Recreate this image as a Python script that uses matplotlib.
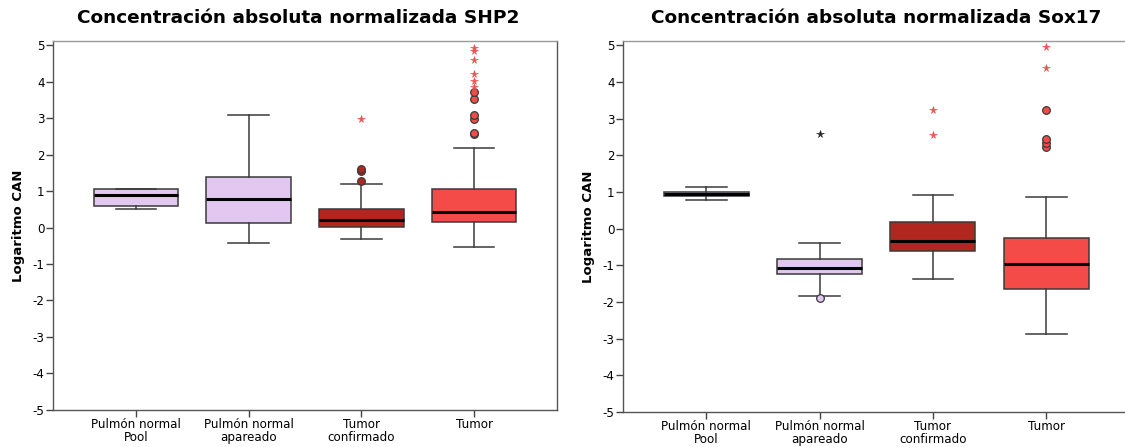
import numpy as np
import matplotlib
matplotlib.use('Agg')
import matplotlib.pyplot as plt

plt.rcParams['font.family'] = ['DejaVu Sans']
plt.rcParams['axes.unicode_minus'] = False

grupos = ['Pulmón normal\nPool', 'Pulmón normal\napareado', 'Tumor\nconfirmado', 'Tumor']
colores = ['#E2C8F0', '#E2C8F0', '#B22620', '#F44B49']

# SHP2: cuartiles y bigotes por grupo
shp2_med = [0.89, 0.79, 0.21, 0.42]
shp2_q1 = [0.59, 0.12, 0.02, 0.15]
shp2_q3 = [1.05, 1.40, 0.51, 1.05]
shp2_lo = [0.52, -0.43, -0.32, -0.53]
shp2_hi = [1.07, 3.10, 1.19, 2.19]
shp2_atipicos = [[], [], [1.28, 1.55, 1.62], [2.56, 2.60, 2.97, 3.09, 3.52, 3.72]]
shp2_extremos = [[], [], [2.97], [3.85, 4.02, 4.21, 4.59, 4.85, 4.94]]

# Sox17
sox17_med = [0.94, -1.07, -0.33, -0.96]
sox17_q1 = [0.88, -1.23, -0.61, -1.65]
sox17_q3 = [0.99, -0.83, 0.17, -0.25]
sox17_lo = [0.79, -1.83, -1.37, -2.87]
sox17_hi = [1.15, -0.40, 0.93, 0.87]
sox17_atipicos = [[], [-1.88], [], [2.24, 2.33, 2.44, 3.23]]
sox17_extremos = [[], [2.59], [2.56, 3.23], [4.37, 4.95]]

rojo_ext = '#EC5050'

W, H = 1125, 447
fig = plt.figure(figsize=(W / 100, H / 100), dpi=100)
ax1 = fig.add_axes([53 / W, (H - 409.7) / H, 504 / W, 368.7 / H])
ax2 = fig.add_axes([623 / W, (H - 412) / H, 506.5 / W, 371 / H])


def dibujar(ax, titulo, med, q1, q3, lo, hi, atipicos, extremos, col_ext, x_titulo=0.5):
    stats = []
    for i in range(len(grupos)):
        stats.append(dict(med=med[i], q1=q1[i], q3=q3[i], whislo=lo[i], whishi=hi[i], fliers=[]))
    pos = np.arange(1, len(grupos) + 1)
    bp = ax.bxp(stats, positions=pos, widths=0.75, patch_artist=True, showfliers=False,
                boxprops=dict(edgecolor='#3a3a3a', linewidth=1.1),
                medianprops=dict(color='black', linewidth=2.2),
                whiskerprops=dict(color='#3a3a3a', linewidth=1.1),
                capprops=dict(color='#3a3a3a', linewidth=1.1), capwidths=0.36)
    for caja, c in zip(bp['boxes'], colores):
        caja.set_facecolor(c)
    for i in range(len(grupos)):
        if atipicos[i]:
            ax.plot([pos[i]] * len(atipicos[i]), atipicos[i], 'o', ms=5.5,
                    mfc=colores[i], mec='#3a3a3a', mew=0.9, zorder=3)
        if extremos[i]:
            ax.plot([pos[i]] * len(extremos[i]), extremos[i], '*', ms=5.5,
                    mfc=col_ext[i], mec=col_ext[i], mew=0.4, zorder=3)
    ax.set_xlim(0.265, 4.735)
    ax.set_ylim(-5, 5.12)
    ax.set_yticks(range(-5, 6))
    ax.set_xticks(pos)
    ax.set_xticklabels(grupos, fontsize=8.6, linespacing=0.95)
    ax.tick_params(axis='y', labelsize=8.6, length=5, width=1, color='#444444', pad=1)
    ax.tick_params(axis='x', length=5, width=1, color='#444444', pad=1)
    for s in ax.spines.values():
        s.set_color('#555555')
        s.set_linewidth(1)
    ax.spines['top'].set_color('#999999')
    ax.set_ylabel('Logaritmo CAN', fontsize=9.5, fontweight='bold')
    ax.yaxis.set_label_coords(-28 / 504, 0.5)
    ax.set_title(titulo, fontsize=13.3, fontweight='bold', pad=13, x=x_titulo)


dibujar(ax1, 'Concentración absoluta normalizada SHP2', shp2_med, shp2_q1, shp2_q3,
        shp2_lo, shp2_hi, shp2_atipicos, shp2_extremos, [rojo_ext] * 4,
        x_titulo=0.5 - 7 / 504)
dibujar(ax2, 'Concentración absoluta normalizada Sox17', sox17_med, sox17_q1, sox17_q3,
        sox17_lo, sox17_hi, sox17_atipicos, sox17_extremos,
        [rojo_ext, '#222222', rojo_ext, rojo_ext])

fig.savefig('out.png', dpi=100, facecolor='white')
